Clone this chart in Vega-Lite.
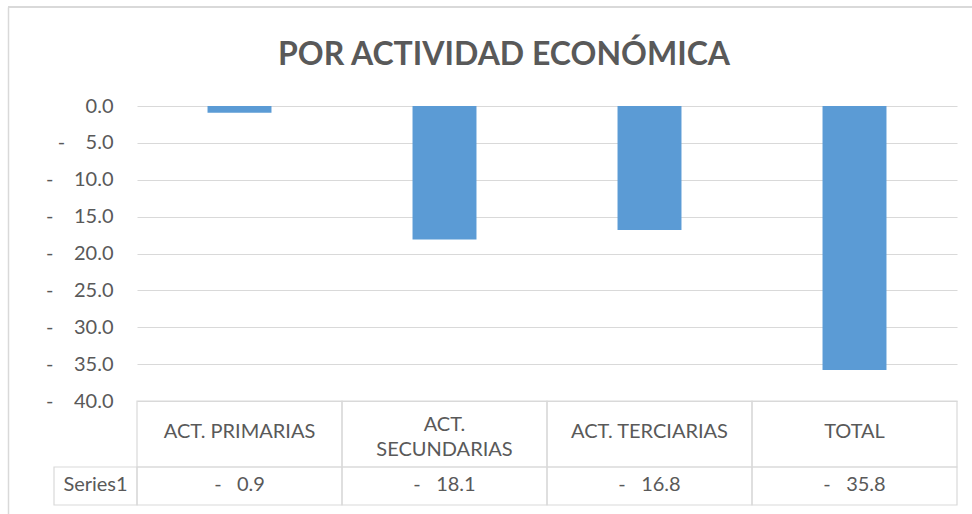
{
  "$schema": "https://vega.github.io/schema/vega-lite/v6.json",
  "width": 964,
  "height": 507,
  "autosize": {"type": "none"},
  "padding": {"left": 8, "top": 7, "right": 0, "bottom": 0},
  "background": "white",
  "title": {"text": "POR ACTIVIDAD ECONÓMICA", "font": "Lato", "fontSize": 32, "fontWeight": "bold", "color": "#595959", "anchor": "middle", "frame": "group", "orient": "top", "offset": -66, "dx": 14},
  "config": {"view": {"stroke": null}, "font": "Lato"},
  "data": {"values": [
    {"cat": "ACT. PRIMARIAS", "label": "ACT. PRIMARIAS", "series": "Series1", "value": -0.9},
    {"cat": "ACT. SECUNDARIAS", "label": "ACT.\nSECUNDARIAS", "series": "Series1", "value": -18.1},
    {"cat": "ACT. TERCIARIAS", "label": "ACT. TERCIARIAS", "series": "Series1", "value": -16.8},
    {"cat": "TOTAL", "label": "TOTAL", "series": "Series1", "value": -35.8}
  ]},
  "transform": [{"calculate": "'-\u00a0\u00a0\u00a0' + format(abs(datum.value), '.1f')", "as": "valueText"}],
  "layer": [
    {
      "mark": {"type": "bar", "color": "#5B9BD5", "width": {"band": 0.312}},
      "encoding": {
        "x": {"field": "cat", "type": "nominal", "sort": null, "scale": {"range": [129, 949], "paddingInner": 0, "paddingOuter": 0}, "axis": null},
        "y": {"field": "value", "type": "quantitative", "scale": {"domain": [-55.32, 13.424], "nice": false, "zero": false},
          "axis": {"title": null, "values": [0, -5, -10, -15, -20, -25, -30, -35, -40], "labelExpr": "datum.value == 0 ? '0.0' : '-\u00a0\u00a0\u00a0\u00a0' + format(abs(datum.value), '.1f')", "grid": true, "gridColor": "#D9D9D9", "gridWidth": 1, "domain": true, "domainColor": "#D9D9D9", "domainWidth": 1.5, "ticks": false, "labelPadding": -105, "labelFont": "Lato", "labelFontSize": 20, "labelColor": "#595959"}}
      }
    },
    {
      "mark": {"type": "rule", "color": "#D9D9D9", "strokeWidth": 1.5},
      "encoding": {"y": {"datum": 13.424, "title": null}}
    },
    {
      "mark": {"type": "rect", "fillOpacity": 0, "stroke": "#D9D9D9", "strokeWidth": 1.2},
      "encoding": {
        "x": {"field": "cat", "type": "nominal", "sort": null},
        "y": {"datum": -40, "title": null},
        "y2": {"datum": -48.95}
      }
    },
    {
      "mark": {"type": "rect", "fillOpacity": 0, "stroke": "#D9D9D9", "strokeWidth": 1.2},
      "encoding": {
        "x": {"field": "cat", "type": "nominal", "sort": null},
        "y": {"datum": -48.95, "title": null},
        "y2": {"datum": -54.1}
      }
    },
    {
      "transform": [{"filter": "datum.cat == 'ACT. PRIMARIAS'"}],
      "mark": {"type": "bar", "fillOpacity": 0, "stroke": "#D9D9D9", "strokeWidth": 1.2, "width": 83, "xOffset": -144},
      "encoding": {
        "x": {"field": "cat", "type": "nominal", "sort": null},
        "y": {"datum": -48.95, "title": null},
        "y2": {"datum": -54.1}
      }
    },
    {
      "transform": [{"filter": "datum.cat != 'ACT. SECUNDARIAS'"}],
      "mark": {"type": "text", "font": "Lato", "fontSize": 20, "color": "#595959", "baseline": "middle", "align": "center"},
      "encoding": {
        "x": {"field": "cat", "type": "nominal", "sort": null},
        "y": {"datum": -44.16, "title": null},
        "text": {"field": "label"}
      }
    },
    {
      "transform": [{"filter": "datum.cat == 'ACT. SECUNDARIAS'"}],
      "mark": {"type": "text", "font": "Lato", "fontSize": 20, "color": "#595959", "baseline": "middle", "align": "center", "lineBreak": "\n", "lineHeight": 24.7},
      "encoding": {
        "x": {"field": "cat", "type": "nominal", "sort": null},
        "y": {"datum": -43.3, "title": null},
        "text": {"field": "label"}
      }
    },
    {
      "mark": {"type": "text", "font": "Lato", "fontSize": 20, "color": "#595959", "baseline": "middle", "align": "center"},
      "encoding": {
        "x": {"field": "cat", "type": "nominal", "sort": null},
        "y": {"datum": -51.39, "title": null},
        "text": {"field": "valueText"}
      }
    },
    {
      "transform": [{"filter": "datum.cat == 'ACT. PRIMARIAS'"}],
      "mark": {"type": "text", "font": "Lato", "fontSize": 20, "color": "#595959", "baseline": "middle", "align": "center", "dx": -41.5},
      "encoding": {
        "x": {"field": "cat", "type": "nominal", "sort": null, "bandPosition": 0},
        "y": {"datum": -51.39, "title": null},
        "text": {"field": "series"}
      }
    }
  ]
}
